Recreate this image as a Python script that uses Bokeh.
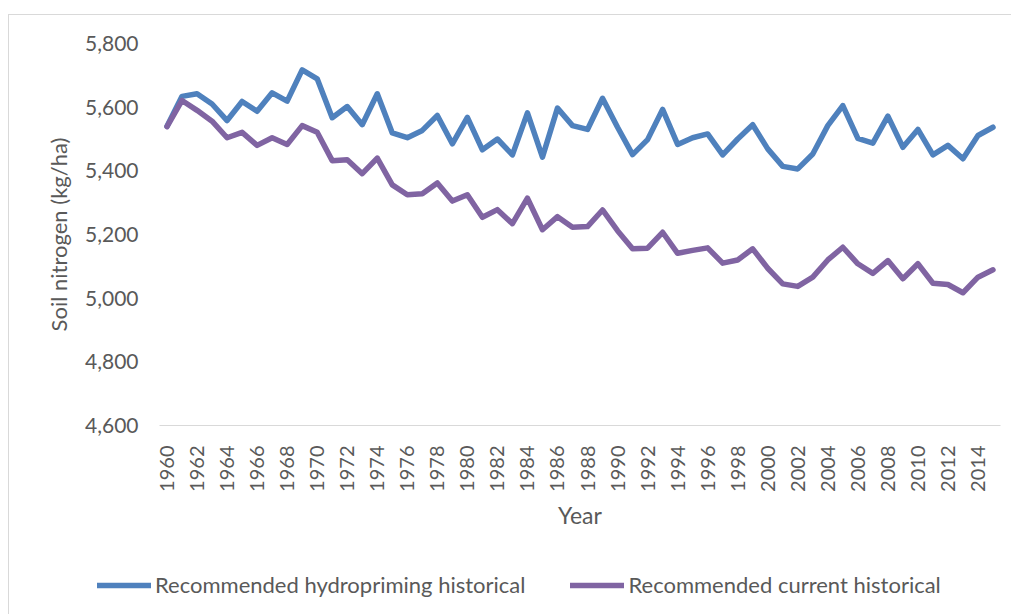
from bokeh.plotting import figure
from bokeh.models import (Legend, LegendItem, NumeralTickFormatter, FixedTicker,
                          ColumnDataSource, InlineStyleSheet)
from bokeh.embed import file_html
from bokeh.resources import INLINE
import math

years = list(range(1960, 2016))
hydropriming = [5540, 5634, 5642, 5610, 5558, 5618, 5587, 5645, 5619, 5717,
                5689, 5567, 5602, 5545, 5642, 5519, 5504, 5527, 5574, 5485,
                5568, 5466, 5500, 5450, 5582, 5443, 5597, 5542, 5530, 5628,
                5537, 5451, 5498, 5593, 5483, 5504, 5516, 5450, 5500, 5545,
                5469, 5414, 5406, 5453, 5542, 5605, 5502, 5487, 5572, 5474,
                5530, 5450, 5480, 5438, 5511, 5537]
current = [5539, 5621, 5590, 5556, 5504, 5521, 5480, 5504, 5483, 5542,
           5521, 5432, 5435, 5391, 5440, 5356, 5325, 5328, 5362, 5305,
           5325, 5254, 5278, 5234, 5314, 5215, 5256, 5223, 5225, 5277,
           5212, 5155, 5157, 5207, 5141, 5150, 5158, 5110, 5120, 5155,
           5094, 5045, 5037, 5066, 5120, 5160, 5108, 5078, 5118, 5061,
           5108, 5047, 5043, 5017, 5066, 5089]
series_names = ["Recommended hydropriming historical", "Recommended current historical"]
y_ticks = [4600, 4800, 5000, 5200, 5400, 5600, 5800]
x_ticks = list(range(1960, 2016, 2))

src = ColumnDataSource(dict(year=years, hydro=hydropriming, cur=current))

FONT = "Lato"
TXT = "#595959"
BLUE = "#4F81BD"
PURPLE = "#8064A2"

p = figure(frame_width=841, frame_height=382, output_backend="svg",
           toolbar_location=None,
           x_range=(1959.5, 2015.5), y_range=(4600, 5800),
           min_border_left=159, min_border_right=11, min_border_top=43,
           min_border_bottom=135)
p.outline_line_color = None
p.xgrid.grid_line_color = None
p.ygrid.grid_line_color = None

p.line("year", "hydro", source=src, line_color=BLUE, line_width=5.5,
       line_join="round", line_cap="round")
p.line("year", "cur", source=src, line_color=PURPLE, line_width=5.5,
       line_join="round", line_cap="round")

xa = p.xaxis[0]
xa.ticker = FixedTicker(ticks=x_ticks)
xa.major_label_orientation = math.pi / 2
xa.major_tick_line_color = None
xa.minor_tick_line_color = None
xa.axis_line_color = "#D9D9D9"
xa.axis_line_width = 1
xa.major_label_standoff = 14
xa.major_label_text_font = FONT
xa.major_label_text_font_size = "20px"
xa.major_label_text_color = TXT
xa.axis_label = "Year"
xa.axis_label_text_font = FONT
xa.axis_label_text_font_size = "23px"
xa.axis_label_text_font_style = "normal"
xa.axis_label_text_color = TXT
xa.axis_label_standoff = 6

ya = p.yaxis[0]
ya.ticker = FixedTicker(ticks=y_ticks)
ya.formatter = NumeralTickFormatter(format="0,0")
ya.axis_line_color = None
ya.major_tick_line_color = None
ya.minor_tick_line_color = None
ya.major_label_standoff = 15
ya.major_label_text_font = FONT
ya.major_label_text_font_size = "21px"
ya.major_label_text_color = TXT
ya.axis_label = "Soil nitrogen (kg/ha)"
ya.axis_label_text_font = FONT
ya.axis_label_text_font_size = "22px"
ya.axis_label_text_font_style = "normal"
ya.axis_label_text_color = TXT
ya.axis_label_standoff = 10

p.stylesheets = [InlineStyleSheet(css="""
:host { position: relative; }
:host::after { content: ''; position: absolute; left: 8px; top: 14px; right: 0;
  bottom: 0; border-left: 1px solid #D9D9D9; border-top: 1px solid #D9D9D9;
  pointer-events: none; z-index: 10; }
""")]

# legend strip: a second root figure holding the legend (its lines are out of view)
lg = figure(width=1011, height=54, output_backend="svg", toolbar_location=None,
            x_range=(0, 1), y_range=(0, 1),
            x_axis_location=None, y_axis_location=None,
            min_border_left=0, min_border_right=0, min_border_top=0,
            min_border_bottom=0)
lg.grid.visible = False
lg.outline_line_color = None
l1 = lg.line("year", "hydro", source=src, line_color=BLUE, line_width=5.5,
             line_cap="round")
l2 = lg.line("year", "cur", source=src, line_color=PURPLE, line_width=5.5,
             line_cap="round")
legend = Legend(items=[LegendItem(label=series_names[0], renderers=[l1]),
                       LegendItem(label=series_names[1], renderers=[l2])],
                orientation="horizontal", location=(97, 16),
                label_text_font=FONT, label_text_font_size="22px",
                label_text_color=TXT, glyph_width=54, glyph_height=20,
                label_standoff=4, spacing=45, border_line_color=None,
                background_fill_alpha=0, margin=0, padding=0)
lg.add_layout(legend, "center")
lg.stylesheets = [InlineStyleSheet(css="""
:host { position: relative; }
:host::after { content: ''; position: absolute; left: 8px; top: 0; right: 0;
  bottom: 0; border-left: 1px solid #D9D9D9;
  pointer-events: none; z-index: 10; }
""")]

open("out.html", "w").write(file_html((p, lg), INLINE))
